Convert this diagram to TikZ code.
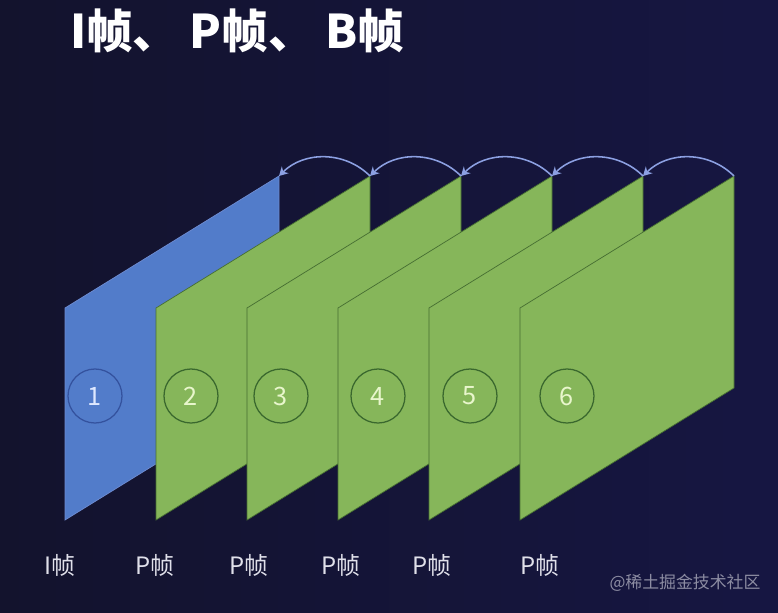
\documentclass[tikz,border=0pt]{standalone}
\usepackage{fontspec}
\setmainfont{Noto Sans CJK SC}
\usepackage{tikz}
\usetikzlibrary{
    arrows.meta,
    positioning
}
\definecolor{bgdark}{RGB}{19,19,45}
\definecolor{bgblue}{RGB}{22,22,66}
\definecolor{iblue}{RGB}{82,124,202}
\definecolor{iedge}{RGB}{110,140,210}
\definecolor{pgreen}{RGB}{134,182,90}
\definecolor{pedge}{RGB}{70,110,50}
\definecolor{icircle}{RGB}{52,82,158}
\definecolor{pcircle}{RGB}{58,104,46}
\definecolor{idigit}{RGB}{222,232,255}
\definecolor{pdigit}{RGB}{232,246,204}
\definecolor{arcblue}{RGB}{140,160,226}
\definecolor{labgray}{RGB}{224,224,234}
\definecolor{wmgray}{RGB}{140,140,162}

\begin{document}
\begin{tikzpicture}[
            x=0.025cm, y=-0.025cm,
            title/.style={font=\fontsize{33}{33}\selectfont\bfseries, text=white},
            iframe/.style={fill=iblue, draw=iedge, line width=0.5pt},
            pframe/.style={fill=pgreen, draw=pedge, line width=0.5pt},
            inum/.style={circle, draw=icircle, line width=0.9pt, minimum size=1.35cm,
                         inner sep=0pt, text=idigit, font=\fontsize{18}{18}\selectfont},
            pnum/.style={inum, draw=pcircle, text=pdigit},
            framelabel/.style={font=\fontsize{17}{17}\selectfont, text=labgray},
            wmark/.style={font=\fontsize{12}{12}\selectfont, text=wmgray},
            arr/.style={-{Stealth[length=2.2mm, width=2.4mm]}, line width=1.1pt, arcblue}
        ]
            \shade[left color=bgdark, right color=bgblue] (0,0) rectangle (778,613);
            \useasboundingbox (0,0) rectangle (778,613);

            \node[title] (title) at (237,31) {I帧、 P帧、 B帧};

            \draw[iframe] (65,308) -- ++(214,-132) coordinate (t1) -- ++(0,212) -- ++(-214,132) -- cycle;
            \node[inum] (n1) at (95,396) {1};

            \draw[pframe] (156,308) -- ++(214,-132) coordinate (t2) -- ++(0,212) -- ++(-214,132) -- cycle;
            \node[pnum] (n2) at (191,396) {2};

            \draw[pframe] (247,308) -- ++(214,-132) coordinate (t3) -- ++(0,212) -- ++(-214,132) -- cycle;
            \node[pnum] (n3) at (281,396) {3};

            \draw[pframe] (338,308) -- ++(214,-132) coordinate (t4) -- ++(0,212) -- ++(-214,132) -- cycle;
            \node[pnum] (n4) at (378,396) {4};

            \draw[pframe] (429,308) -- ++(214,-132) coordinate (t5) -- ++(0,212) -- ++(-214,132) -- cycle;
            \node[pnum] (n5) at (470,396) {5};

            \draw[pframe] (520,308) -- ++(214,-132) coordinate (t6) -- ++(0,212) -- ++(-214,132) -- cycle;
            \node[pnum] (n6) at (567,396) {6};

            \draw[arr] (t2) to[out=135, in=45] (t1);
            \draw[arr] (t3) to[out=135, in=45] (t2);
            \draw[arr] (t4) to[out=135, in=45] (t3);
            \draw[arr] (t5) to[out=135, in=45] (t4);
            \draw[arr] (t6) to[out=135, in=45] (t5);

            \node[framelabel] (lab1) at (60,565) {I帧};
            \node[framelabel] (lab2) at (155,565) {P帧};
            \node[framelabel] (lab3) at (249,565) {P帧};
            \node[framelabel] (lab4) at (341,565) {P帧};
            \node[framelabel] (lab5) at (432,565) {P帧};
            \node[framelabel] (lab6) at (540,565) {P帧};

            \node[wmark] (wm) at (685,583) {@稀土掘金技术社区};
        \end{tikzpicture}
\end{document}
